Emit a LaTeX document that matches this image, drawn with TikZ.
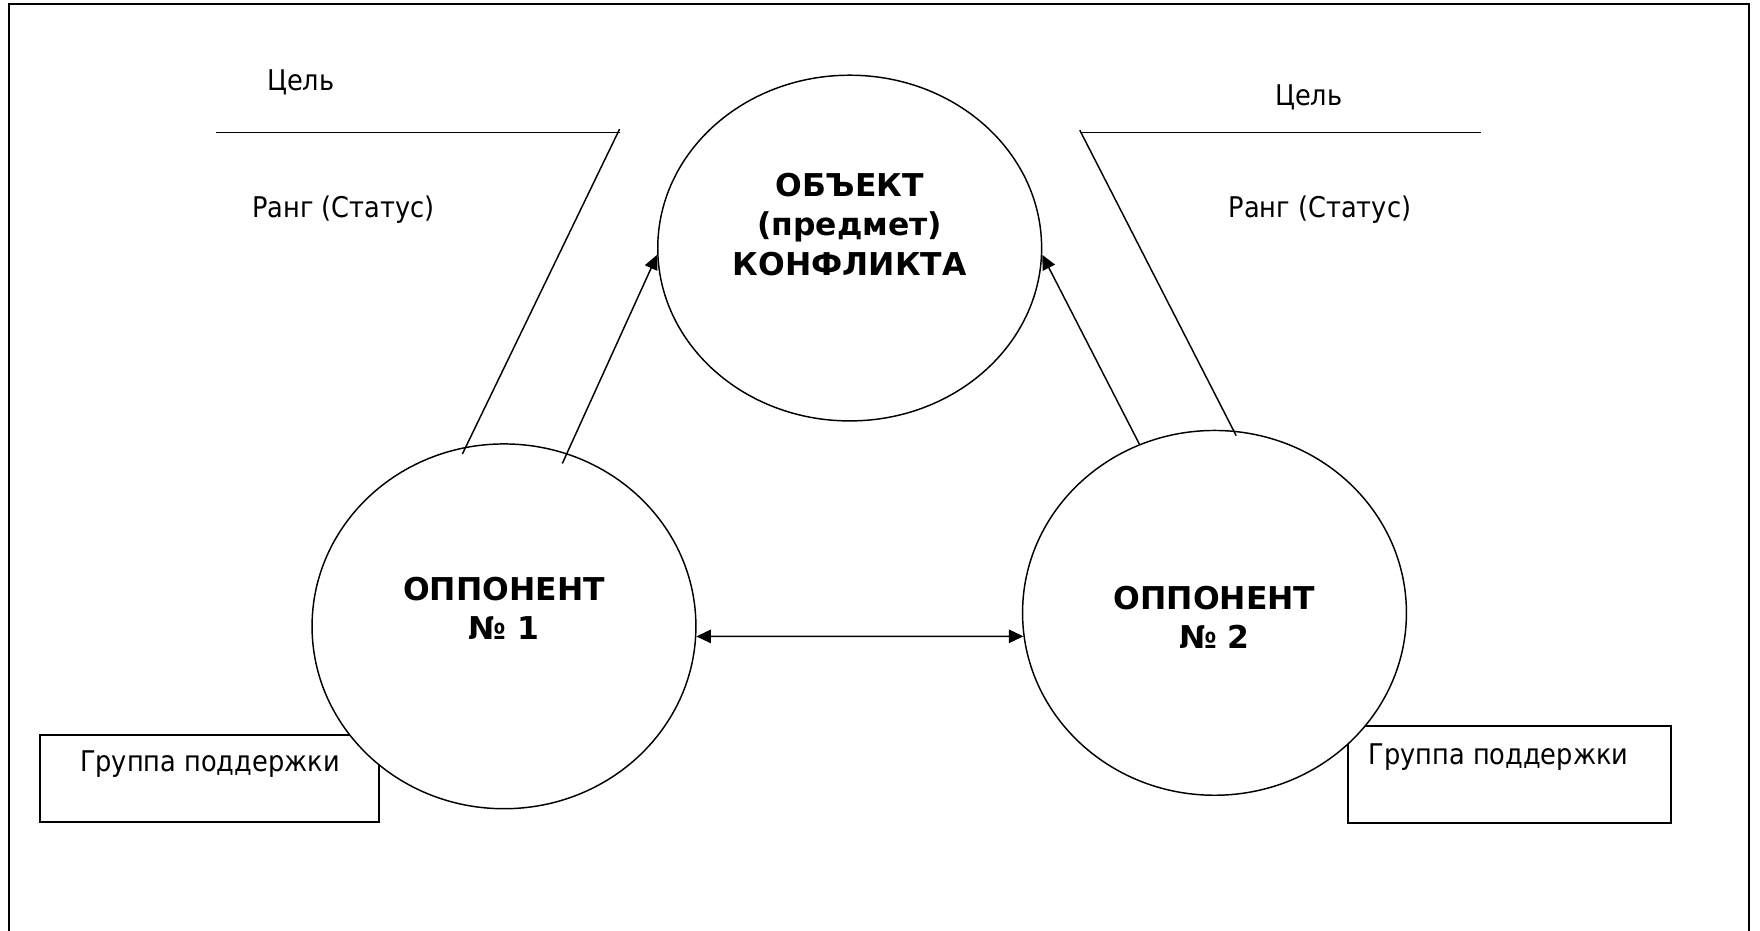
\documentclass[tikz,border=0pt]{standalone}
\usepackage{fontspec}
\setmainfont{DejaVu Sans}
\newfontfamily\condfont{DejaVu Sans Condensed}
\usetikzlibrary{shapes.geometric}
\usetikzlibrary{positioning}
\usetikzlibrary{arrows.meta}

\tikzset{
  oval/.style={ellipse,draw=black,fill=white,line width=0.65pt,inner sep=0pt},
  bigtext/.style={font=\bfseries\fontsize{14}{17.5}\selectfont,align=center,text=black},
  lbl/.style={font=\condfont\fontsize{12.7}{16}\selectfont,text=black},
  grpbox/.style={rectangle,draw=black,line width=0.9pt,inner sep=0pt},
  link/.style={draw=black,line width=0.65pt},
  tip/.style={-{Triangle[length=6.5pt,width=6pt]}},
}

\begin{document}
\begin{tikzpicture}[x=0.5pt,y=-0.5pt]
\useasboundingbox (0,0) rectangle (1568,829);
\draw[black,line width=0.9pt] (8,829) -- (8,4) -- (1558,4) -- (1558,829);

% support groups
\node[grpbox,minimum width=151pt,minimum height=38.5pt] (grp1) at (187,693.5) {};
\node[grpbox,minimum width=144pt,minimum height=43pt] (grp2) at (1345,690) {};
\node[lbl] (grp1txt) at ([yshift=-13.5pt]grp1.north) {Группа поддержки};
\node[lbl] (grp2txt) at ([xshift=-5pt,yshift=-14pt]grp2.north) {Группа поддержки};

% ellipses
\node[oval,minimum width=171pt,minimum height=154pt] (obj) at (757,221) {};
\node[oval,minimum width=171pt,minimum height=162.5pt] (opp1) at (449,558) {};
\node[oval,minimum width=171pt,minimum height=162.5pt] (opp2) at (1082,546) {};
\node[bigtext] (objtxt) at (757,200) {ОБЪЕКТ\\(предмет)\\КОНФЛИКТА};
\node[bigtext] (opp1txt) at (449,542) {ОППОНЕНТ\\№ 1};
\node[bigtext] (opp2txt) at (1082,550) {ОППОНЕНТ\\№ 2};

% goal and rank
\node[lbl] (goal1) at (268,73) {Цель};
\node[lbl] (rank1) at (306,187) {Ранг (Статус)};
\node[lbl] (goal2) at (1166,87) {Цель};
\node[lbl] (rank2) at (1176,187) {Ранг (Статус)};
\coordinate (bar1a) at (192,118);
\coordinate (bar1b) at (552,118);
\coordinate (bar2a) at (962,118);
\coordinate (bar2b) at (1319,118);
\draw[link] (bar1a) -- (bar1b);
\draw[link] (bar2a) -- (bar2b);
\draw[link,shorten >=-3.5pt] ([yshift=1.5pt]bar1b) -- (opp1.102);
\draw[link,shorten >=-2.5pt] ([yshift=1pt]bar2a) -- (opp2.84);

% arrows
\draw[link,tip,shorten <=-5pt] (opp1.70) -- (obj.182);
\draw[link,tip] (opp2.114) -- (obj.-2);
\draw[link,{Triangle[length=6.5pt,width=6pt]}-{Triangle[length=6.5pt,width=6pt]}] (opp1.-3) -- (opp2.187);

\end{tikzpicture}
\end{document}
